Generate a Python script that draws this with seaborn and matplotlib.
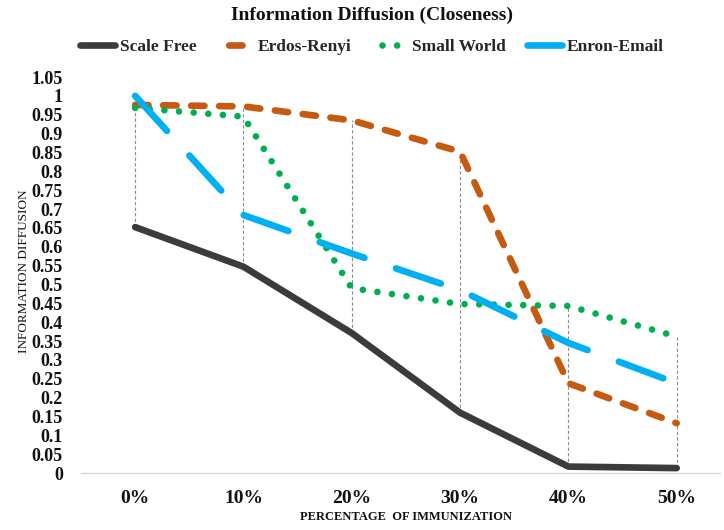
import numpy as np
import pandas as pd
import matplotlib
matplotlib.use("Agg")
import matplotlib.pyplot as plt
from matplotlib.lines import Line2D
import seaborn as sns

# Information diffusion (closeness-based immunization) per network model
immunization = ["0%", "10%", "20%", "30%", "40%", "50%"]
scale_free = [0.652, 0.547, 0.371, 0.160, 0.017, 0.013]
erdos_renyi = [0.976, 0.972, 0.935, 0.852, 0.238, 0.132]
small_world = [0.968, 0.945, 0.490, 0.448, 0.443, 0.362]
enron_email = [1.000, 0.684, 0.582, 0.485, 0.345, 0.238]
series_names = ["Scale Free", "Erdos-Renyi", "Small World", "Enron-Email"]
y_ticks = [0, 0.05, 0.1, 0.15, 0.2, 0.25, 0.3, 0.35, 0.4, 0.45, 0.5, 0.55,
           0.6, 0.65, 0.7, 0.75, 0.8, 0.85, 0.9, 0.95, 1, 1.05]

all_values = [scale_free, erdos_renyi, small_world, enron_email]
df = pd.DataFrame({
    "Immunization": immunization * len(series_names),
    "Diffusion": sum(all_values, []),
    "Network": np.repeat(series_names, len(immunization)),
})

palette = {"Scale Free": "#3B3B3B", "Erdos-Renyi": "#C55A11",
           "Small World": "#00B050", "Enron-Email": "#00B0F0"}
dash_styles = {"Scale Free": "", "Erdos-Renyi": (2.0, 2.2),
               "Small World": (0.001, 2.2), "Enron-Email": (7.1, 5.0)}
# legend swatches: one centred dash / two centred dots
legend_styles = {"Scale Free": "-", "Erdos-Renyi": (8.4, (2.0, 8.0)),
                 "Small World": (0.7, (0.001, 2.2)), "Enron-Email": "-"}
LW = 4.8

sns.set_theme(style="white")
plt.rcParams["font.family"] = ["Liberation Serif", "DejaVu Serif"]

fig = plt.figure(figsize=(7.24, 5.30), dpi=100)
ax = fig.add_axes([81 / 724, 57 / 530, (720 - 81) / 724, (473 - 77) / 530])

# high-low drop lines at each category
vals = np.array(all_values)
ax.vlines(range(len(immunization)), vals.min(axis=0), vals.max(axis=0),
          colors="#8C8C8C", linestyles=(0, (3, 2)), linewidth=0.8, zorder=1)

sns.lineplot(data=df, x="Immunization", y="Diffusion", hue="Network",
             style="Network", palette=palette, dashes=dash_styles,
             hue_order=series_names, style_order=series_names,
             linewidth=LW, sort=False, errorbar=None, legend=False,
             ax=ax, zorder=3)
for line in ax.lines:
    line.set_dash_capstyle("round")
    line.set_solid_capstyle("round")
    line.set_solid_joinstyle("round")
    line.set_clip_on(False)

ax.set_xlim(-0.5, 5.4)
ax.set_ylim(0, 1.05)
ax.set_yticks(y_ticks)
ax.set_yticklabels([f"{v:g}" for v in y_ticks], fontsize=13, fontweight="bold")
ax.set_xticks(range(len(immunization)))
ax.set_xticklabels(immunization, fontsize=14, fontweight="bold")
ax.tick_params(axis="y", length=0, pad=13, colors="#111111")
ax.tick_params(axis="x", length=0, pad=12.5, colors="#111111")

for side in ["left", "right", "top"]:
    ax.spines[side].set_visible(False)
ax.spines["bottom"].set_color("#D9D9D9")
ax.spines["bottom"].set_linewidth(1.0)
ax.grid(False)

ax.set_ylabel("INFORMATION DIFFUSION", fontsize=9.5, color="#111111")
ax.yaxis.set_label_coords(-0.080, 0.51)
ax.set_xlabel("PERCENTAGE  OF IMMUNIZATION", fontsize=9, fontweight="bold",
              color="#111111")
ax.xaxis.set_label_coords(0.509, -0.097)

fig.text(372 / 724, 1 - 15 / 530, "Information Diffusion (Closeness)",
         ha="center", va="center", fontsize=14, fontweight="bold",
         color="#111111")

handles = []
for name in series_names:
    h = Line2D([], [], color=palette[name], linewidth=LW,
               linestyle=legend_styles[name],
               dash_capstyle="round", solid_capstyle="round")
    handles.append(h)
fig.legend(handles, series_names, loc="center",
           bbox_to_anchor=(372 / 724, 1 - 47 / 530), ncol=4, frameon=False,
           prop={"size": 12.5, "weight": "bold"}, handlelength=2.0,
           handletextpad=0.3, columnspacing=1.2)

fig.savefig("out.png", dpi=100, facecolor="white")
